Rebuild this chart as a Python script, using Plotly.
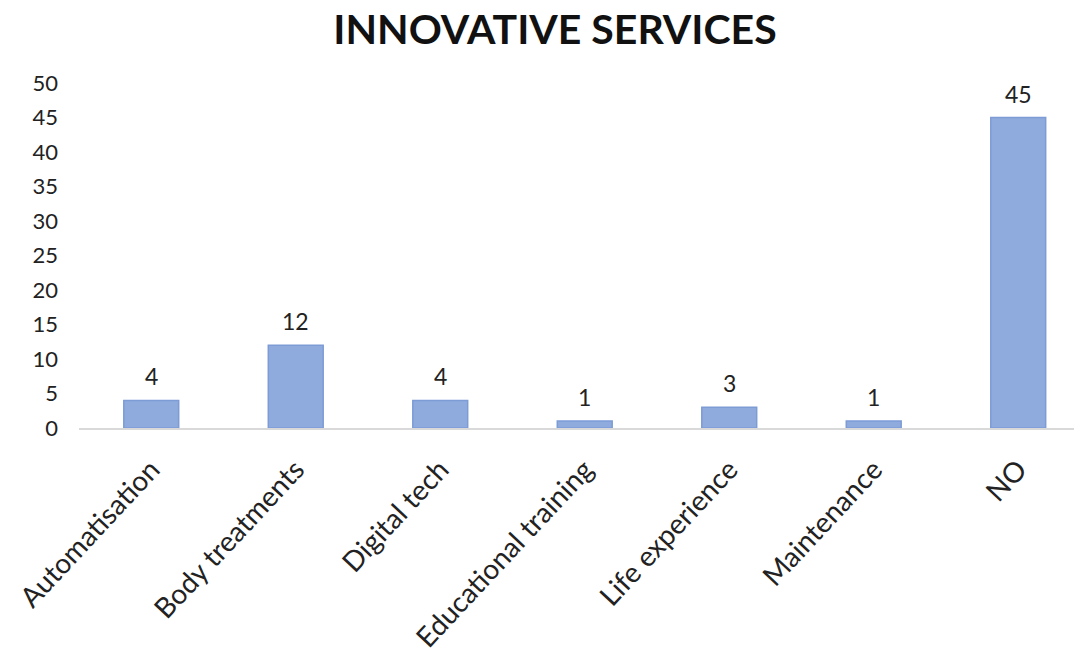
import plotly.graph_objects as go

categories = ["Automatisation", "Body treatments", "Digital tech", "Educational training",
              "Life experience", "Maintenance", "NO"]
values = [4, 12, 4, 1, 3, 1, 45]
y_ticks = [0, 5, 10, 15, 20, 25, 30, 35, 40, 45, 50]

FONT = "Lato, 'Open Sans', sans-serif"

fig = go.Figure(go.Bar(
    x=categories, y=values,
    width=0.38,
    marker=dict(color="#8FAADC", line=dict(color="#7D9CD6", width=1.5)),
))

for c, v in zip(categories, values):
    fig.add_annotation(x=c, y=v, text=str(v), showarrow=False, yanchor="bottom",
                       yshift=8, font=dict(family=FONT, size=23, color="#222222"))

fig.update_layout(
    width=1074, height=661,
    margin=dict(l=79, r=0, t=83, b=233),
    paper_bgcolor="white", plot_bgcolor="white",
    showlegend=False,
    title=dict(text="<b>INNOVATIVE SERVICES</b>", x=555/1074, xref="container", xanchor="center",
               y=0.955, yref="container", yanchor="middle",
               font=dict(family=FONT, size=41, color="#111111")),
    font=dict(family=FONT, color="#222222"),
)
fig.update_xaxes(
    range=[-0.5, 6.386], tickangle=-47, showgrid=False,
    showline=True, linecolor="#D9D9D9", linewidth=2,
    ticks="", ticklabelstandoff=12, tickfont=dict(family=FONT, size=28, color="#222222"),
)
fig.update_yaxes(
    range=[0, 50], tickvals=y_ticks, showgrid=False, zeroline=False,
    showline=False, ticks="", ticklabelstandoff=20,
    tickfont=dict(family=FONT, size=22, color="#222222"),
)

fig.write_html("out.html")
